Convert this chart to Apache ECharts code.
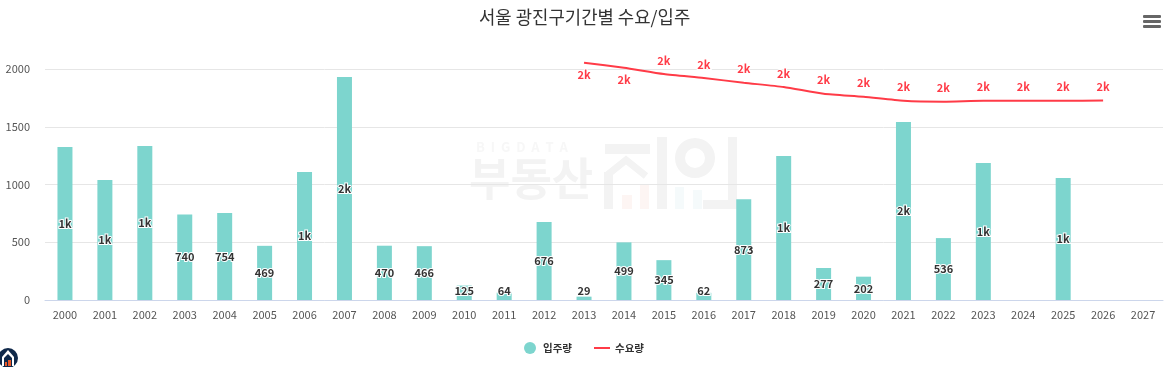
<!DOCTYPE html>
<html>
<head>
<meta charset="utf-8">
<title>서울 광진구기간별 수요/입주</title>
<style>
    html, body { margin: 0; padding: 0; background: #fff; }
    #chart { width: 1176px; height: 367px; }
</style>
<script src="https://cdn.jsdelivr.net/npm/echarts@6/dist/echarts.min.js"></script>
</head>
<body>
<div id="chart"></div>
<script>
var years = ['2000', '2001', '2002', '2003', '2004', '2005', '2006', '2007', '2008', '2009',
    '2010', '2011', '2012', '2013', '2014', '2015', '2016', '2017', '2018', '2019',
    '2020', '2021', '2022', '2023', '2024', '2025', '2026', '2027'];
// 입주량
var supply = [1325, 1039, 1333, 740, 754, 469, 1108, 1931, 470, 466,
    125, 64, 676, 29, 499, 345, 62, 873, 1247, 277,
    202, 1541, 536, 1186, null, 1056, null, null];
// 수요량
var demand = [null, null, null, null, null, null, null, null, null, null,
    null, null, null, 2055, 2011, 1957, 1922, 1881, 1844, 1786,
    1760, 1725, 1717, 1725, 1725, 1725, 1727, null];
var yTicks = [0, 500, 1000, 1500, 2000];

var FONT = '"Noto Sans CJK KR", "Noto Sans", sans-serif';

function shortNum(v) { // 1000 이상은 k 단위
    return v >= 1000 ? Math.round(v / 1000) + 'k' : String(v);
}

// 라인 라벨은 앞 두 해만 아래쪽
var demandData = demand.map(function (v, i) {
    if (i === 13 || i === 14) {
        return { value: v, label: { position: 'bottom', distance: 7 } };
    }
    return v;
});

/*==================== 워터마크 + 로고 + 메뉴 ====================*/
var GREY = '#f3f3f3';
function wm(x, y, w, h, color) { // 워터마크 조각
    return { type: 'rect', z: -1, silent: true, shape: { x: x, y: y, width: w, height: h }, style: { fill: color || GREY } };
}
function solid(x, y, w, h, color, r) {
    return { type: 'rect', silent: true, shape: { x: x, y: y, width: w, height: h, r: r || 0 }, style: { fill: color } };
}
var graphics = [
    { type: 'text', z: -1, silent: true, x: 476, y: 141, style: { text: 'B  I  G  D  A  T  A', fill: '#f7f7f7', font: 'bold 13px ' + FONT } },
    { type: 'text', z: -1, silent: true, x: 469, y: 156, style: { text: '부동산', fill: GREY, font: 'bold 45px ' + FONT } },
    wm(605, 144, 45, 10),
    { type: 'polyline', z: -1, silent: true, shape: { points: [[606, 176], [626, 160], [646, 176]] }, style: { stroke: GREY, lineWidth: 7, fill: null } },
    wm(604, 172, 9, 37),
    wm(622, 195, 10, 14, '#fdf5f3'),
    wm(640, 185, 9, 24, '#fdf5f3'),
    wm(657, 137, 10, 72),
    { type: 'ring', z: -1, silent: true, shape: { cx: 695, cy: 158, r: 20, r0: 10 }, style: { fill: GREY } },
    wm(675, 187, 9, 22, '#f5fafb'),
    wm(693, 190, 9, 19, '#f5fafb'),
    wm(728, 137, 9, 72),
    wm(703, 200, 34, 9),
    // 메뉴 아이콘
    solid(1143, 15, 18, 3, '#666', 1),
    solid(1143, 20, 18, 3, '#666', 1),
    solid(1143, 25, 18, 3, '#666', 1),
    // 로고
    { type: 'circle', silent: true, shape: { cx: 8, cy: 358, r: 10 }, style: { fill: '#10294a' } },
    { type: 'polygon', silent: true, shape: { points: [[2, 357], [8, 350], [14, 357], [14, 366], [2, 366]] }, style: { fill: '#fff' } },
    { type: 'polygon', silent: true, shape: { points: [[4, 358], [8, 354], [12, 358], [12, 366], [4, 366]] }, style: { fill: '#10294a' } },
    solid(5, 362, 2, 4, '#e8582a'),
    solid(8, 360, 3, 6, '#e8582a')
];

var myChart = echarts.init(document.getElementById('chart'));
var option = {
    animation: false,
    textStyle: { fontFamily: FONT },
    title: {
        text: '서울 광진구기간별 수요/입주',
        left: 474,
        top: 3,
        textStyle: { fontSize: 17.8, fontWeight: 'normal', color: '#333', fontFamily: FONT }
    },
    grid: { left: 45, right: 13, top: 69, bottom: 67, outerBoundsMode: 'none' },
    legend: {
        top: 337,
        left: 519,
        itemWidth: 16,
        itemHeight: 12,
        itemGap: 21,
        textStyle: { fontSize: 10.5, fontWeight: 'bold', color: '#333', fontFamily: FONT },
        data: [
            { name: '입주량', icon: 'circle' },
            { name: '수요량', itemStyle: { opacity: 0 } }
        ]
    },
    graphic: graphics,
    xAxis: {
        type: 'category',
        data: years,
        axisTick: { show: false },
        axisLine: { lineStyle: { color: '#ccd6eb', width: 1 } },
        axisLabel: { interval: 0, color: '#555', fontSize: 11, margin: 9, fontFamily: FONT }
    },
    yAxis: {
        type: 'value',
        min: yTicks[0],
        max: yTicks[yTicks.length - 1],
        interval: 500,
        axisLine: { show: false },
        axisTick: { show: false },
        splitLine: { lineStyle: { color: '#e6e6e6', width: 1 } },
        axisLabel: {
            color: '#555',
            fontSize: 11,
            margin: 15,
            fontFamily: FONT,
            formatter: function (v) { return String(v); }
        }
    },
    series: [{
        name: '입주량',
        type: 'bar',
        data: supply,
        barWidth: 15,
        itemStyle: { color: '#7dd5ce' },
        label: {
            show: true,
            position: 'inside',
            fontSize: 11,
            fontWeight: 'bold',
            color: '#333',
            textBorderColor: '#fff',
            textBorderWidth: 2,
            formatter: function (p) { return shortNum(p.value); }
        },
        labelLayout: function (p) { // 낮은 막대는 라벨이 축 아래로 내려가지 않게
            var mid = p.rect.y + p.rect.height / 2;
            return mid > 291 ? { dy: 291 - mid } : {};
        }
    }, {
        name: '수요량',
        type: 'line',
        data: demandData,
        smooth: 0.2,
        clip: false,
        symbol: 'circle',
        symbolSize: 0,
        lineStyle: { color: '#ff3b47', width: 2 },
        itemStyle: { color: '#ff3b47' },
        label: {
            show: true,
            position: 'top',
            distance: 8,
            fontSize: 11,
            fontWeight: 'bold',
            color: '#ff3b47',
            textBorderColor: '#fff',
            textBorderWidth: 2,
            formatter: function (p) { return shortNum(p.value); }
        }
    }]
};
myChart.setOption(option);
</script>
</body>
</html>
